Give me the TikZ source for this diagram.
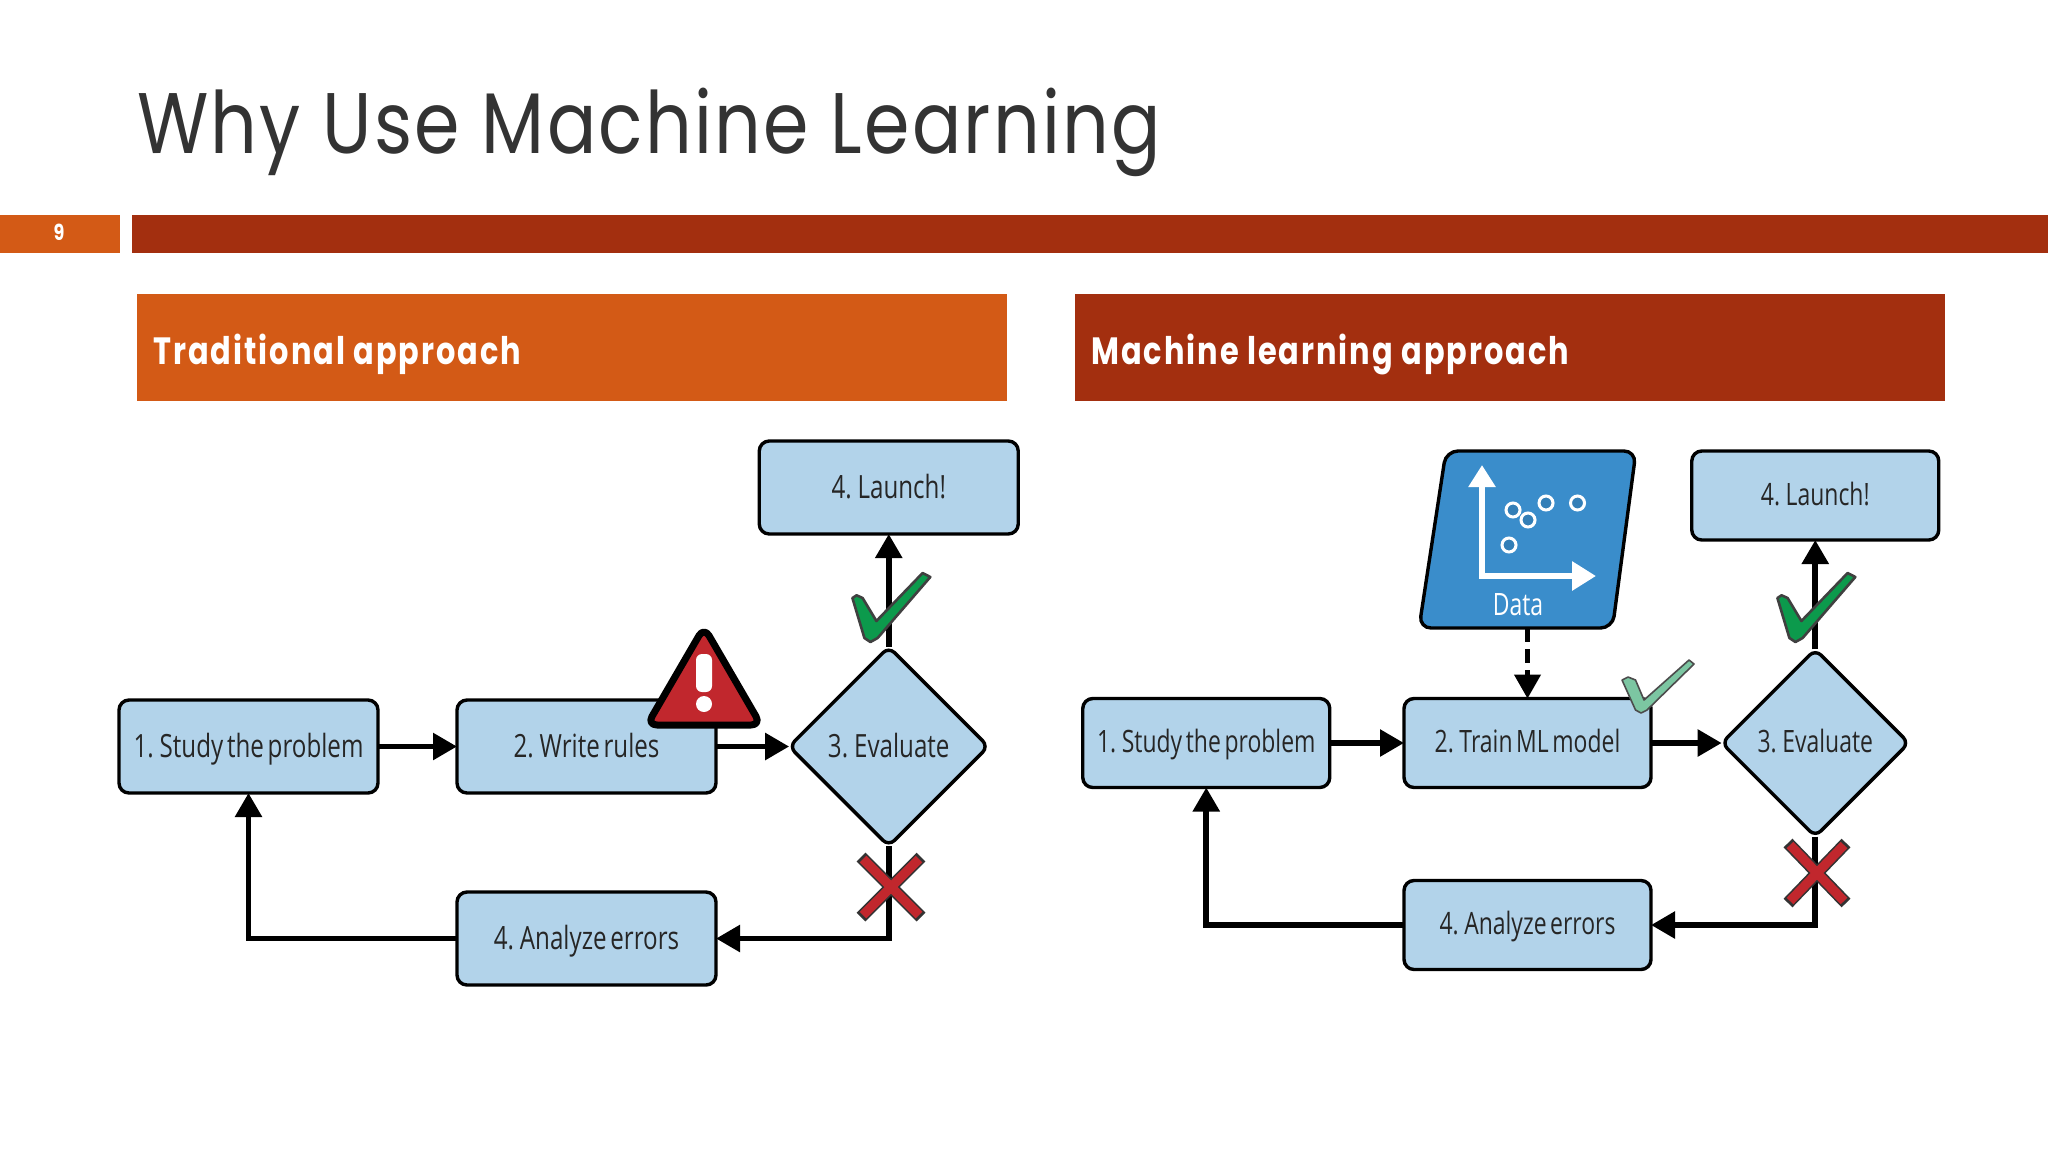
\documentclass[tikz,border=0pt]{standalone}
\usepackage{fontspec}
\usetikzlibrary{arrows.meta,shapes.geometric}
\setmainfont{Open Sans}
\newfontfamily\ttlfont[FakeStretch=0.85,LetterSpace=2.6]{Poppins}
\newfontfamily\headfont[FakeStretch=0.8,LetterSpace=5.2]{Poppins}
\newfontfamily\pagefont[FakeStretch=0.8]{Poppins}
\newfontfamily\boxfont[FakeStretch=0.755,WordSpace=0.6]{Open Sans}
\newfontfamily\rboxfont[FakeStretch=0.745,WordSpace=0.6]{Open Sans}
\definecolor{boxblue}{HTML}{B2D3EA}
\definecolor{datablue}{HTML}{3A8DCB}
\definecolor{hdorange}{HTML}{D35A16}
\definecolor{hdred}{HTML}{A32F0F}
\definecolor{tickgreen}{HTML}{0C9A4C}
\definecolor{ticklight}{HTML}{7CC6A2}
\definecolor{markred}{HTML}{C1272D}
\tikzset{
  x=0.5pt,y=-0.5pt,
  flowbox/.style={draw=black,fill=boxblue,line width=1.7pt,rounded corners=5pt,inner sep=0pt,outer sep=0pt,text=black!85},
  bigbox/.style={flowbox,minimum width=129.5pt,minimum height=46.5pt,text height=13pt,text depth=2.5pt,font=\boxfont\fontsize{16}{18}\selectfont},
  smallbox/.style={flowbox,minimum width=123.5pt,minimum height=44.5pt,text height=12.5pt,text depth=3pt,font=\rboxfont\fontsize{15.4}{17}\selectfont},
  flowdiamond/.style={draw=black,fill=boxblue,line width=1.7pt,rounded corners=4pt,diamond,aspect=1,inner sep=0pt,outer sep=0pt,text=black!85},
  link/.style={draw=black,line width=2.8pt,-{Triangle[length=12pt,width=13pt]}},
  tickmk/.style={draw=black!75,fill=tickgreen,line width=1.3pt,line join=round},
  lighttick/.style={draw=black!70,fill=ticklight,line width=0.8pt,line join=round},
  crossout/.style={draw=black!80,line width=6.2pt},
  crossin/.style={draw=markred,line width=4.6pt},
  headbox/.style={inner sep=0pt,minimum width=435pt,minimum height=53.5pt},
  headtext/.style={anchor=base west,inner sep=0pt,text=white,font=\headfont\bfseries\fontsize{19}{22}\selectfont},
}
\begin{document}
\begin{tikzpicture}
\useasboundingbox (0,0) rectangle (2048,1152);
\fill[white] (0,0) rectangle (2048,1152);
% slide frame
\node[anchor=base west,inner sep=0pt,text=black!80,font=\ttlfont\fontsize{43}{48}\selectfont] (title) at (137,153) {Why Use Machine Learning};
\fill[hdorange] (0,215) rectangle (120,253);
\fill[hdred] (132,215) rectangle (2048,253);
\node[text=white,inner sep=0pt,font=\pagefont\bfseries\fontsize{11}{12}\selectfont] (pagenum) at (59,232) {9};
\node[headbox,fill=hdorange] (hleft) at (571.5,347.5) {};
\node[headbox,fill=hdred] (hright) at (1510,347.5) {};
\node[headtext] (hlefttext) at (153,364) {Traditional approach};
\node[headtext] (hrighttext) at (1091,364) {Machine learning approach};
% left diagram
\node[bigbox] (la) at (248.5,746.5) {1. Study the problem};
\node[bigbox] (lb) at (586.5,746.5) {2. Write rules};
\node[bigbox] (le) at (586.5,938.5) {4. Analyze errors};
\node[bigbox] (ll) at (888.75,487.5) {4. Launch!};
\node[flowdiamond,minimum width=99.6pt,minimum height=99.6pt,text height=13pt,text depth=2.5pt,font=\boxfont\fontsize{16}{18}\selectfont] (ld) at (888.75,746.5) {3. Evaluate};
\draw[link] (la) -- (lb);
\draw[link] (lb) -- (ld);
\draw[link] (ld) -- (ll);
\draw[link] (ld) |- (le);
\draw[link] (le) -| (la);
% warning sign
\draw[draw=black,line width=3.5pt,fill=markred,rounded corners=5pt,line join=round] (704,627) -- (761,725) -- (647,725) -- cycle;
\fill[white,rounded corners=3pt] (696,654) rectangle (712,692);
\fill[white] (704,704) circle (8);
% tick and cross, left
\draw[tickmk] (852.4,598) -- (856.6,595.3) -- (862.6,598) -- (876.4,621) -- (922.6,573) -- (930.3,577) -- (877.6,638) -- (870.4,642) -- (864.4,638) -- cycle;
\draw[crossout] (861,857) -- (921,917) (921,857) -- (861,917);
\draw[crossin] (863,859) -- (919,915) (919,859) -- (863,915);
% right diagram
\node[smallbox] (ra) at (1206.25,743) {1. Study the problem};
\node[smallbox] (rb) at (1527.5,743) {2. Train ML model};
\node[smallbox] (re) at (1527.5,925) {4. Analyze errors};
\node[smallbox] (rl) at (1815.25,495.5) {4. Launch!};
\node[flowdiamond,minimum width=93.6pt,minimum height=93.6pt,text height=12.5pt,text depth=3pt,font=\rboxfont\fontsize{15.4}{17}\selectfont] (rd) at (1815.25,743) {3. Evaluate};
\draw[draw=black,line width=1.7pt,fill=datablue,rounded corners=6pt] (1446,451) -- (1636,451) -- (1612.5,628) -- (1419,628) -- cycle;
\coordinate (datafoot) at (1527.5,628);
\draw[link,line width=2.2pt,dash pattern=on 7pt off 3.5pt] (datafoot) -- (rb.north);
\node[inner sep=0pt,text=white,font=\rboxfont\fontsize{15.4}{17}\selectfont] (datalabel) at (1518,605) {Data};
\draw[white,line width=3pt,{Triangle[length=11pt,width=13pt]}-{Triangle[length=12pt,width=14pt]}] (1482,465) -- (1482,576) -- (1596,576);
\foreach \dx/\dy in {1513/510,1528/520,1546/503,1577.5/503,1509/545}
  \draw[white,line width=1.5pt,fill=datablue!90!black] (\dx,\dy) circle (7);
\draw[link] (ra) -- (rb);
\draw[link] (rb) -- (rd);
\draw[link] (rd) -- (rl);
\draw[link] (rd) |- (re);
\draw[link] (re) -| (ra);
% ticks and cross, right
\draw[lighttick] (1622,680) -- (1628,677) -- (1635.5,680) -- (1644,700) -- (1689,660) -- (1694,664) -- (1647,710) -- (1641,713) -- (1635.5,710) -- cycle;
\begin{scope}[shift={(925,0)}]
\draw[tickmk] (852.4,598) -- (856.6,595.3) -- (862.6,598) -- (876.4,621) -- (922.6,573) -- (930.3,577) -- (877.6,638) -- (870.4,642) -- (864.4,638) -- cycle;
\end{scope}
\draw[crossout] (1788,843) -- (1846,903) (1846,843) -- (1788,903);
\draw[crossin] (1790,845) -- (1844,901) (1844,845) -- (1790,901);
\end{tikzpicture}
\end{document}
